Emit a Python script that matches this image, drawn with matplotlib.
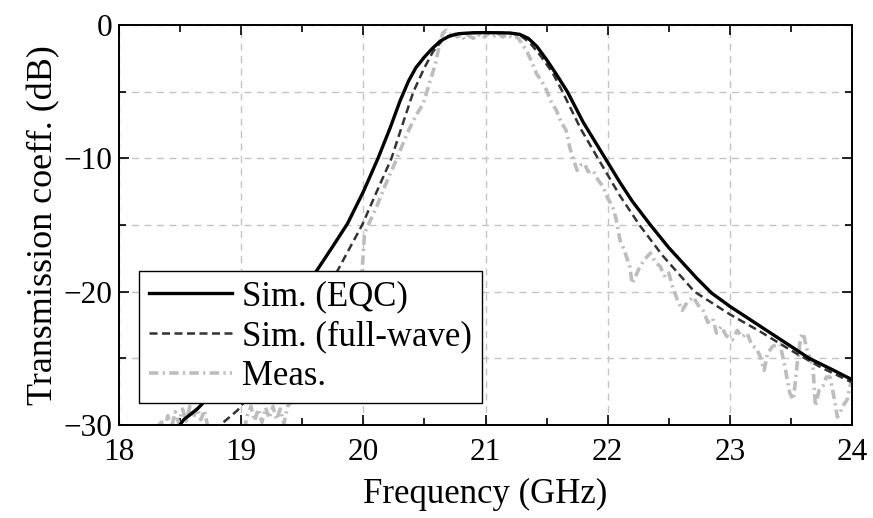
import numpy as np
import matplotlib
matplotlib.use('Agg')
import matplotlib.pyplot as plt
from matplotlib.ticker import MultipleLocator

plt.rcParams['font.family'] = ['Liberation Serif', 'DejaVu Serif']

# Sim. (EQC)
eqc_f = [18.40, 18.53, 18.64, 18.80, 19.00, 19.20, 19.40, 19.62, 19.75, 19.87,
         20.00, 20.12, 20.22, 20.30, 20.37, 20.43, 20.50, 20.56, 20.63, 20.70,
         20.78, 20.90, 21.00, 21.10, 21.20, 21.28, 21.35, 21.42, 21.50, 21.58,
         21.67, 21.80, 21.90, 21.98, 22.10, 22.20, 22.35, 22.50, 22.62, 22.73,
         22.85, 23.00, 23.25, 23.45, 23.65, 23.85, 24.00]
eqc_db = [-31.2, -29.6, -28.8, -27.3, -25.5, -23.4, -21.1, -18.4, -16.6, -14.9,
          -12.5, -10.0, -7.7, -5.7, -4.2, -3.2, -2.4, -1.8, -1.2, -0.85,
          -0.65, -0.58, -0.57, -0.58, -0.60, -0.70, -1.0, -1.6, -2.6, -3.7,
          -5.0, -7.3, -8.8, -10.0, -11.8, -13.2, -15.0, -16.7, -17.9, -19.0,
          -20.1, -21.1, -22.6, -23.8, -25.0, -25.9, -26.6]

# Sim. (full-wave)
fw_f = [18.70, 18.88, 18.97, 19.20, 19.40, 19.60, 19.79, 19.99, 20.10, 20.23,
        20.33, 20.41, 20.50, 20.57, 20.65, 20.72, 20.80, 21.00, 21.20, 21.28,
        21.36, 21.45, 21.55, 21.63, 21.78, 21.92, 22.10, 22.26, 22.45, 22.71,
        23.00, 23.25, 23.50, 23.75, 24.00]
fw_db = [-31.0, -29.6, -28.9, -26.3, -23.8, -21.1, -18.4, -15.0, -12.7, -10.0,
         -7.2, -5.0, -3.2, -2.0, -1.1, -0.75, -0.62, -0.58, -0.60, -0.75,
         -1.3, -2.3, -3.6, -5.0, -7.8, -10.0, -12.8, -15.0, -17.3, -20.0,
         -21.7, -23.0, -24.4, -25.7, -26.8]

# Meas.
meas_f = [18.30, 18.34, 18.37, 18.40, 18.43, 18.46, 18.49, 18.52, 18.55, 18.58,
          18.61, 18.64, 18.67, 18.70, 18.73, 18.78, 18.90, 19.02, 19.05, 19.08,
          19.11, 19.14, 19.17, 19.20, 19.23, 19.26, 19.29, 19.32, 19.35, 19.38,
          19.45, 19.55, 19.65, 19.75, 19.85, 19.93, 19.99, 20.01, 20.05, 20.11,
          20.18, 20.27, 20.36, 20.43, 20.49, 20.54, 20.59, 20.62, 20.65, 20.68,
          20.71, 20.74, 20.77, 20.80, 20.83, 20.86, 20.90, 20.94, 20.98, 21.02,
          21.06, 21.10, 21.14, 21.18, 21.22, 21.26, 21.30, 21.34, 21.38, 21.42,
          21.46, 21.50, 21.54, 21.58, 21.62, 21.66, 21.69, 21.72, 21.75, 21.78,
          21.81, 21.84, 21.88, 21.92, 21.96, 22.00, 22.04, 22.07, 22.10, 22.14,
          22.18, 22.20, 22.23, 22.26, 22.30, 22.35, 22.39, 22.43, 22.47, 22.50,
          22.53, 22.57, 22.61, 22.65, 22.70, 22.74, 22.78, 22.82, 22.86, 22.89,
          22.93, 22.97, 23.02, 23.06, 23.10, 23.14, 23.18, 23.22, 23.25, 23.28,
          23.31, 23.35, 23.41, 23.45, 23.49, 23.52, 23.55, 23.58, 23.60, 23.63,
          23.68, 23.70, 23.73, 23.76, 23.79, 23.82, 23.85, 23.88, 23.90, 23.93,
          23.96, 24.00]
meas_db = [-31.0, -29.6, -30.4, -29.3, -30.2, -29.0, -29.9, -28.8, -29.7, -28.6,
           -29.4, -28.7, -29.6, -28.9, -30.3, -31.0, -31.5, -30.6, -29.3, -28.6,
           -29.7, -28.8, -29.8, -28.7, -29.5, -28.6, -29.6, -28.8, -29.9, -28.6,
           -27.8, -26.0, -24.5, -22.6, -21.0, -19.6, -18.4, -15.6, -14.8, -13.6,
           -12.0, -10.1, -8.1, -6.8, -5.9, -4.4, -2.9, -1.6, -0.6, -0.4,
           -0.7, -0.5, -0.9, -0.7, -1.1, -0.8, -1.0, -0.7, -1.0, -0.6,
           -0.9, -0.6, -0.9, -0.7, -1.0, -0.9, -1.4, -2.0, -2.8, -3.7,
           -4.2, -4.9, -5.8, -6.4, -7.3, -7.9, -9.2, -10.1, -10.9, -10.5,
           -10.4, -11.0, -10.9, -11.6, -12.1, -13.0, -13.6, -14.6, -16.1, -17.0,
           -18.1, -19.4, -18.8, -18.2, -17.6, -17.1, -17.8, -18.1, -18.9, -18.6,
           -19.6, -20.6, -21.4, -20.8, -20.4, -21.0, -21.4, -22.3, -22.0, -23.1,
           -22.6, -23.3, -23.6, -22.9, -23.4, -23.1, -24.0, -24.3, -24.9, -25.9,
           -24.6, -24.1, -23.9, -25.6, -27.6, -28.1, -25.5, -23.4, -23.1, -24.3,
           -25.6, -28.6, -27.4, -27.1, -26.4, -26.4, -27.8, -29.4, -29.1, -28.5,
           -28.1, -26.4]

fig = plt.figure(figsize=(8.73, 5.18), dpi=100)
ax = fig.add_axes([0.1363, 0.1795, 0.8397, 0.7722])

ax.plot(meas_f, meas_db, color='#bdbdbd', lw=2.6, ls=(0, (2.6, 1.2, 0.6, 1.2)), label='Meas.', zorder=2)
ax.plot(fw_f, fw_db, color='#333333', lw=1.8, ls=(0, (3.2, 1.8)), label='Sim. (full-wave)', zorder=3)
ax.plot(eqc_f, eqc_db, color='black', lw=2.4, label='Sim. (EQC)', zorder=4)

ax.set_xlim(18, 24)
ax.set_ylim(-30, 0)
ax.xaxis.set_major_locator(MultipleLocator(1))
ax.xaxis.set_minor_locator(MultipleLocator(0.5))
ax.yaxis.set_major_locator(MultipleLocator(10))
ax.yaxis.set_minor_locator(MultipleLocator(5))
ax.tick_params(which='both', direction='in', top=True, right=True, labelsize=22.5, width=1.2)
ax.tick_params(which='major', length=7)
ax.tick_params(which='minor', length=5)
ax.tick_params(axis='x', which='major', pad=9)
ax.tick_params(axis='y', which='major', pad=5)
ax.xaxis.grid(True, which='major', ls=(0, (5, 4)), color='#c4c4c4', lw=1)
ax.yaxis.grid(True, which='both', ls=(0, (5, 4)), color='#c4c4c4', lw=1)
ax.set_axisbelow(True)
for s in ax.spines.values():
    s.set_linewidth(1.4)

ax.set_xlabel('Frequency (GHz)', fontsize=25, labelpad=8)
ax.set_ylabel('Transmission coeff. (dB)', fontsize=26, labelpad=2)

h, l = ax.get_legend_handles_labels()
leg = ax.legend(h[::-1], l[::-1], loc='lower left', bbox_to_anchor=(0.027, 0.055),
                borderaxespad=0, fontsize=25, frameon=True, fancybox=False,
                edgecolor='black', framealpha=1, handlelength=2.4,
                handletextpad=0.3, labelspacing=0.2, borderpad=0.28)
leg.get_frame().set_linewidth(1.0)

plt.savefig('out.png', dpi=100)
